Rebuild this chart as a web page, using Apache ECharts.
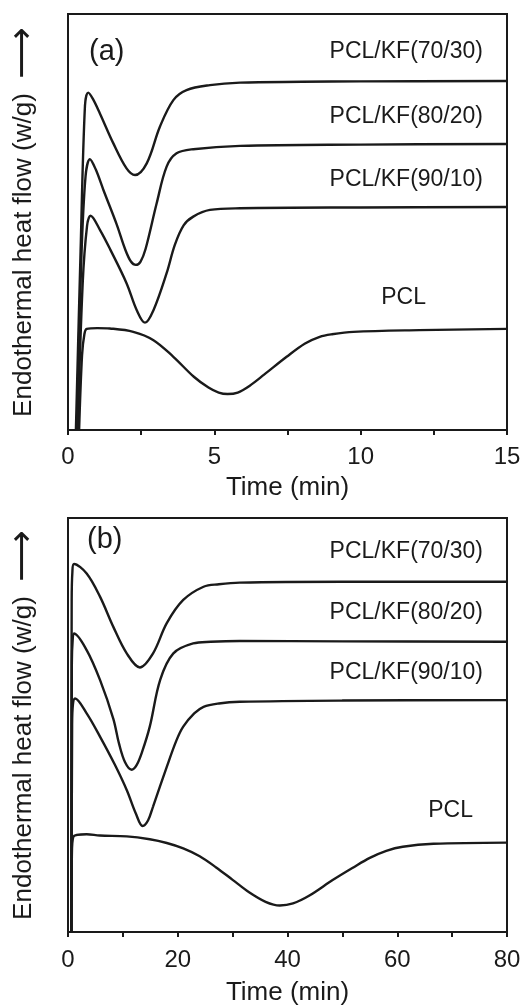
<!DOCTYPE html>
<html><head><meta charset="utf-8">
<script src="https://cdn.jsdelivr.net/npm/echarts@6/dist/echarts.min.js"></script>
<style>html,body{margin:0;padding:0;background:#fff;}#c{width:528px;height:1005px;}</style>
</head><body><div id="c"></div>
<script>
// Panel (a): time in min, heat flow in arbitrary (offset) units 0..100
const a7030 = [[0.27,0],[0.43,43],[0.58,78],[0.69,81.1],[0.85,79.6],[1.09,76.1],[1.55,68.9],[2.0,62.9],[2.29,61.3],[2.69,64.1],[3.14,72.9],[3.6,79.3],[4.05,81.7],[4.85,82.9],[5.88,83.5],[8,83.7],[10,83.8],[15,83.9]];
const a8020 = [[0.3,0],[0.45,40],[0.6,61],[0.75,65.1],[0.95,62.6],[1.21,57.7],[1.66,49.5],[1.95,43.5],[2.15,40.5],[2.32,39.7],[2.48,40.5],[2.65,43.5],[3.03,54.5],[3.37,63.3],[3.71,66.5],[4.28,67.5],[5.88,68.3],[10,68.6],[15,68.75]];
const a9010 = [[0.33,0],[0.5,35],[0.65,49],[0.77,51.5],[1.1,48],[1.45,43.3],[2.0,35.3],[2.35,28.8],[2.63,25.8],[2.92,28.8],[3.37,37.7],[3.65,44.5],[3.95,49.2],[4.28,51.3],[4.85,52.9],[5.88,53.3],[10,53.5],[15,53.6]];
const aPCL  = [[0.38,0],[0.48,18],[0.56,23],[0.64,24.3],[1.0,24.5],[1.43,24.4],[2.23,23.6],[2.92,21.6],[3.6,17.6],[4.3,12.8],[4.8,10.2],[5.15,9.0],[5.45,8.65],[5.8,9.0],[6.2,10.6],[6.7,13.3],[7.47,17.6],[8.1,20.8],[8.6,22.4],[9.0,23.0],[9.75,23.6],[12,24.0],[15,24.3]];
// Panel (b)
const b7030 = [[0.6,0],[0.67,80],[0.8,87],[1.1,88.9],[3.4,86.6],[5.83,81],[8.26,73.7],[10.7,67.3],[13.1,63.9],[15.5,67.3],[18.0,74.6],[21.0,80.2],[24.7,83.4],[27.5,84.0],[31.3,84.4],[50,84.6],[80,84.6]];
const b8020 = [[0.62,0],[0.7,65],[0.85,70.5],[1.1,72.1],[3.4,68.1],[5.83,60.9],[8.26,51.5],[9.3,45.5],[10.4,41],[11.6,39.2],[12.5,40.3],[13.5,43.5],[14.9,49.6],[16.8,60.9],[19.2,67.3],[22.8,69.7],[26,70.1],[31.3,70.3],[50,70.2],[80,70.1]];
const b9010 = [[0.65,0],[0.75,50],[0.9,55],[1.28,56.4],[3.4,52.8],[5.83,47.2],[8.5,40.5],[10.7,34.3],[12.4,28.5],[13.6,25.6],[14.6,27],[15.5,30.3],[18.0,39.9],[19.8,46.4],[21.0,49.6],[23,52.8],[24.7,54.4],[27.5,55.2],[31.3,55.6],[50,55.9],[80,56.0]];
const bPCL  = [[0.6,0],[0.7,18],[0.97,23],[3.4,23.6],[5.8,23.3],[10.7,23.1],[14.9,22.4],[18,21.5],[21,20.2],[24,18.3],[27,15.6],[30,12.6],[33,9.6],[36,7.3],[38.6,6.4],[41,6.9],[44,8.8],[48.3,12.6],[52,15.6],[55,17.9],[58,19.6],[61,20.6],[66.6,21.3],[80,21.6]];
const seriesNames = ['PCL/KF(70/30)','PCL/KF(80/20)','PCL/KF(90/10)','PCL'];
const xTicksA = [0,15,5];
const xTicksB = [0,80,20];
const xName = 'Time (min)';
const yName = 'Endothermal heat flow (w/g)';

const FONT = '"Liberation Sans", Arial, Helvetica, sans-serif';
const INK = '#1a1a1a';
const chart = echarts.init(document.getElementById('c'), null, {renderer:'canvas'});

function xAxis(idx, t, margin, gap){
  return {type:'value', gridIndex:idx, min:t[0], max:t[1], interval:t[2],
    axisLine:{show:true, lineStyle:{color:INK, width:2}},
    axisTick:{show:true, inside:false, length:5, lineStyle:{color:INK, width:2}},
    minorTick:{show:true, splitNumber:2, length:5, lineStyle:{color:INK, width:2}},
    splitLine:{show:false}, minorSplitLine:{show:false},
    axisLabel:{fontSize:24, color:INK, fontFamily:FONT, margin:margin},
    name:xName, nameLocation:'middle', nameGap:gap,
    nameTextStyle:{fontSize:26, color:INK, fontFamily:FONT}};
}
function yAxis(idx){
  return {type:'value', gridIndex:idx, min:0, max:100,
    axisLine:{show:true, lineStyle:{color:INK, width:2}},
    axisTick:{show:false}, axisLabel:{show:false}, splitLine:{show:false},
    name: yName + '  {arr|⟶}', nameLocation:'middle', nameRotate:90, nameGap:26,
    nameTextStyle:{fontSize:26, color:INK, fontFamily:FONT,
      rich:{arr:{fontSize:36, fontFamily:'"DejaVu Sans"', color:INK}}}};
}
function ser(data, i){
  return {type:'line', data:data, xAxisIndex:i, yAxisIndex:i, showSymbol:false,
    smooth:0.35, lineStyle:{color:INK, width:2.4}, silent:true};
}
function txt(t, x, y, size, align){
  return {type:'text', style:{text:t, x:x, y:y, fill:INK, font:size+'px '+FONT,
    textAlign:align||'right', textVerticalAlign:'middle'}};
}
chart.setOption({
  animation:false,
  backgroundColor:'#fff',
  grid:[
    {left:68, top:14, width:439, height:416, show:true, borderColor:INK, borderWidth:2, containLabel:false, outerBoundsMode:'none'},
    {left:68, top:518, width:439, height:414, show:true, borderColor:INK, borderWidth:2, containLabel:false, outerBoundsMode:'none'}
  ],
  xAxis:[xAxis(0, xTicksA, 15, 45), xAxis(1, xTicksB, 16, 48)],
  yAxis:[yAxis(0), yAxis(1)],
  series:[ser(a7030,0), ser(a8020,0), ser(a9010,0), ser(aPCL,0),
          ser(b7030,1), ser(b8020,1), ser(b9010,1), ser(bPCL,1)],
  graphic:[
    txt('(a)', 89, 52, 29, 'left'),
    txt(seriesNames[0], 483, 52, 23), txt(seriesNames[1], 483, 117, 23),
    txt(seriesNames[2], 483, 180, 23), txt(seriesNames[3], 426, 298, 23),
    txt('(b)', 87, 540, 29, 'left'),
    txt(seriesNames[0], 483, 552, 23), txt(seriesNames[1], 483, 613, 23),
    txt(seriesNames[2], 483, 673, 23), txt(seriesNames[3], 473, 811, 23)
  ]
});
</script></body></html>
